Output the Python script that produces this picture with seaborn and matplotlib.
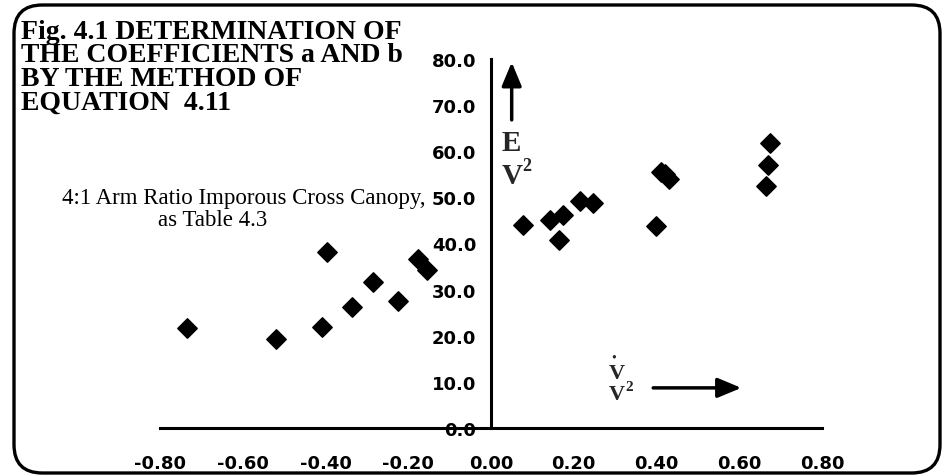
import numpy as np
import pandas as pd
import matplotlib
matplotlib.use("Agg")
import matplotlib.pyplot as plt
from matplotlib.patches import FancyBboxPatch
import seaborn as sns

# Measured points: x = V-dot / V^2, y = E / V^2
x_neg = [-0.735, -0.520, -0.397, -0.409, -0.337, -0.284, -0.225, -0.176, -0.154]
y_neg = [21.7, 19.3, 38.1, 22.0, 26.2, 31.6, 27.6, 36.7, 34.3]
x_pos = [0.077, 0.143, 0.175, 0.164, 0.215, 0.247, 0.398, 0.410, 0.420, 0.430, 0.665, 0.670, 0.675]
y_pos = [44.1, 45.0, 46.2, 40.7, 49.2, 48.8, 43.9, 55.5, 55.0, 54.0, 52.5, 57.0, 61.7]

x_ticks = [-0.80, -0.60, -0.40, -0.20, 0.00, 0.20, 0.40, 0.60, 0.80]
y_ticks = [0, 10, 20, 30, 40, 50, 60, 70, 80]
x_tick_labels = [f"{v:.2f}" for v in x_ticks]
y_tick_labels = [f"{v:.1f}" for v in y_ticks]

title_lines = ["Fig. 4.1 DETERMINATION OF",
               "THE COEFFICIENTS a AND b",
               "BY THE METHOD OF",
               "EQUATION  4.11"]
note_lines = ["4:1 Arm Ratio Imporous Cross Canopy,", "as Table 4.3"]

df = pd.DataFrame({"x": x_neg + x_pos, "y": y_neg + y_pos})

sns.set_theme(style="white")
plt.rcParams["font.family"] = ["DejaVu Sans"]
plt.rcParams["axes.unicode_minus"] = False

W, H = 944, 477
fig = plt.figure(figsize=(W / 100, H / 100), dpi=100)
fig.patch.set_facecolor("white")

def fx(px):
    return px / W

def fy(py):
    return 1 - py / H

ax = fig.add_axes([fx(160), fy(429), (822 - 160) / W, (429 - 60) / H])
ax.set_facecolor("none")

sns.scatterplot(data=df, x="x", y="y", marker="D", s=95, color="black",
                edgecolor="black", linewidth=1.2, legend=False, ax=ax, zorder=1)

ax.set_xlim(-0.8, 0.8)
ax.set_ylim(0, 80)
ax.set_xlabel("")
ax.set_ylabel("")

for side in ("top", "right"):
    ax.spines[side].set_visible(False)
ax.spines["left"].set_position(("data", 0))
ax.spines["bottom"].set_position(("data", 0))
for side in ("left", "bottom"):
    ax.spines[side].set_linewidth(2.2)
    ax.spines[side].set_color("black")

ax.set_xticks(x_ticks, x_tick_labels)
ax.set_yticks(y_ticks, y_tick_labels)
ax.tick_params(axis="both", direction="inout", length=9, width=2.2,
               color="black", labelsize=13, labelcolor="black")
ax.tick_params(axis="x", pad=14)
ax.tick_params(axis="y", pad=6)
for lbl in ax.get_xticklabels() + ax.get_yticklabels():
    lbl.set_fontweight("bold")
for lbl in ax.get_yticklabels():
    lbl.set_bbox(dict(facecolor="white", edgecolor="none", pad=0.3))

serif = ["Liberation Serif", "DejaVu Serif"]

# Title block, top-left
for i, line in enumerate(title_lines):
    fig.text(fx(21), fy(39 + 23.5 * i), line, family=serif, fontweight="bold",
             fontsize=20, ha="left", va="baseline", color="black")

# Note about the configuration
fig.text(fx(244), fy(204), note_lines[0], family=serif, fontsize=16.5,
         ha="center", va="baseline", color="black")
fig.text(fx(213), fy(226), note_lines[1], family=serif, fontsize=16.5,
         ha="center", va="baseline", color="black")

# Vertical axis quantity with upward arrow
ax.annotate("", xy=(0.05, 79.3), xytext=(0.05, 66.8),
            arrowprops=dict(arrowstyle="-|>,head_length=1.2,head_width=0.5",
                            lw=2.5, color="black", shrinkA=0, shrinkB=0))
ax.text(0.05, 61.9, "E", family=serif, fontweight="bold", fontsize=21,
        ha="center", va="center")
ax.text(0.05, 54.8, "V", family=serif, fontweight="bold", fontsize=21,
        ha="center", va="center")
ax.text(0.086, 57.0, "2", family=serif, fontweight="bold", fontsize=13,
        ha="center", va="center")

# Horizontal axis quantity with rightward arrow
ax.text(0.296, 15.3, "•", family=serif, fontsize=10, ha="center", va="center")
ax.text(0.305, 11.9, "V", family=serif, fontweight="bold", fontsize=16,
        ha="center", va="center")
ax.text(0.305, 7.4, "V", family=serif, fontweight="bold", fontsize=16,
        ha="center", va="center")
ax.text(0.334, 8.9, "2", family=serif, fontweight="bold", fontsize=11,
        ha="center", va="center")
ax.annotate("", xy=(0.605, 8.7), xytext=(0.392, 8.7),
            arrowprops=dict(arrowstyle="-|>,head_length=1.2,head_width=0.5",
                            lw=2.5, color="black", shrinkA=0, shrinkB=0))

# Rounded frame around the whole figure
frame = FancyBboxPatch((fx(14), fy(474)), (940 - 14) / W, (474 - 6) / H,
                       boxstyle="round,pad=0,rounding_size=0.03",
                       transform=fig.transFigure, facecolor="none",
                       edgecolor="black", linewidth=2.4, zorder=10,
                       mutation_aspect=W / H)
fig.add_artist(frame)

fig.savefig("out.png", dpi=100, facecolor="white")
